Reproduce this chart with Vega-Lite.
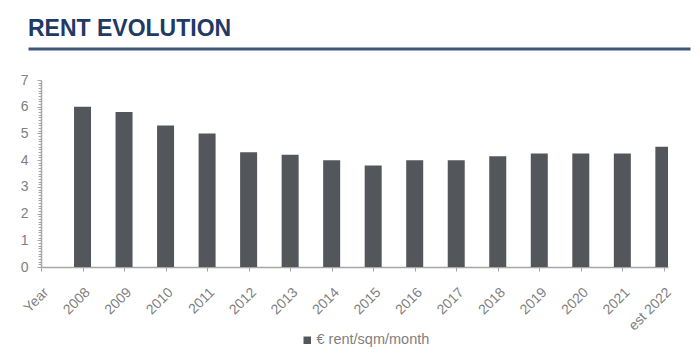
{
  "$schema": "https://vega.github.io/schema/vega-lite/v6.json",
  "autosize": "none",
  "width": 627,
  "height": 187,
  "padding": {"left": 41, "top": 80, "right": 32, "bottom": 96},
  "background": "white",
  "config": {
    "view": {"stroke": null},
    "font": "Liberation Sans"
  },
  "title": {
    "text": "RENT EVOLUTION",
    "anchor": "start",
    "frame": "group",
    "dx": -13,
    "offset": 8,
    "font": "Liberation Sans",
    "fontSize": 23,
    "fontWeight": "bold",
    "color": "#1f3a64"
  },
  "data": {
    "values": [
      {"year": "Year", "rent": null, "series": "€ rent/sqm/month"},
      {"year": "2008", "rent": 6.0, "series": "€ rent/sqm/month"},
      {"year": "2009", "rent": 5.8, "series": "€ rent/sqm/month"},
      {"year": "2010", "rent": 5.3, "series": "€ rent/sqm/month"},
      {"year": "2011", "rent": 5.0, "series": "€ rent/sqm/month"},
      {"year": "2012", "rent": 4.3, "series": "€ rent/sqm/month"},
      {"year": "2013", "rent": 4.2, "series": "€ rent/sqm/month"},
      {"year": "2014", "rent": 4.0, "series": "€ rent/sqm/month"},
      {"year": "2015", "rent": 3.8, "series": "€ rent/sqm/month"},
      {"year": "2016", "rent": 4.0, "series": "€ rent/sqm/month"},
      {"year": "2017", "rent": 4.0, "series": "€ rent/sqm/month"},
      {"year": "2018", "rent": 4.15, "series": "€ rent/sqm/month"},
      {"year": "2019", "rent": 4.25, "series": "€ rent/sqm/month"},
      {"year": "2020", "rent": 4.25, "series": "€ rent/sqm/month"},
      {"year": "2021", "rent": 4.25, "series": "€ rent/sqm/month"},
      {"year": "est 2022", "rent": 4.5, "series": "€ rent/sqm/month"}
    ]
  },
  "layer": [
    {
      "mark": {"type": "bar", "width": 17, "clip": true},
      "encoding": {
        "x": {
          "field": "year",
          "type": "ordinal",
          "sort": null,
          "scale": {
            "type": "point",
            "domain": ["Year", "2008", "2009", "2010", "2011", "2012", "2013", "2014", "2015", "2016", "2017", "2018", "2019", "2020", "2021", "est 2022"],
            "padding": 0.05,
            "align": 0
          },
          "axis": {
            "title": null,
            "labelAngle": -45,
            "labelFont": "Liberation Sans",
            "labelFontSize": 14,
            "labelColor": "#808080",
            "labelPadding": 14,
            "domainColor": "#a6a6a6",
            "domainWidth": 1.5,
            "tickColor": "#a6a6a6",
            "tickSize": 4,
            "grid": false
          }
        },
        "y": {
          "field": "rent",
          "type": "quantitative",
          "scale": {"domain": [0, 7], "nice": false},
          "axis": {
            "title": null,
            "grid": false,
            "values": [0, 0.1, 0.2, 0.3, 0.4, 0.5, 0.6, 0.7, 0.8, 0.9, 1, 1.1, 1.2, 1.3, 1.4, 1.5, 1.6, 1.7, 1.8, 1.9, 2, 2.1, 2.2, 2.3, 2.4, 2.5, 2.6, 2.7, 2.8, 2.9, 3, 3.1, 3.2, 3.3, 3.4, 3.5, 3.6, 3.7, 3.8, 3.9, 4, 4.1, 4.2, 4.3, 4.4, 4.5, 4.6, 4.7, 4.8, 4.9, 5, 5.1, 5.2, 5.3, 5.4, 5.5, 5.6, 5.7, 5.8, 5.9, 6, 6.1, 6.2, 6.3, 6.4, 6.5, 6.6, 6.7, 6.8, 6.9, 7],
            "labelExpr": "abs(datum.value - round(datum.value)) < 0.001 ? format(datum.value, 'd') : ''",
            "labelFont": "Liberation Sans",
            "labelFontSize": 14,
            "labelColor": "#808080",
            "labelPadding": 9,
            "labelOverlap": false,
            "domainColor": "#a6a6a6",
            "domainWidth": 1.5,
            "tickColor": "#a6a6a6",
            "tickSize": {"condition": {"test": "abs(datum.value - round(datum.value)) < 0.001", "value": 4}, "value": 3}
          }
        },
        "color": {
          "field": "series",
          "type": "nominal",
          "scale": {"range": ["#53565a"]},
          "legend": {
            "title": null,
            "orient": "none",
            "legendX": 259,
            "legendY": 253,
            "symbolType": "square",
            "symbolSize": 56,
            "symbolStrokeWidth": 0,
            "labelFont": "Liberation Sans",
            "labelFontSize": 14.5,
            "labelColor": "#7f7f7f",
            "labelOffset": 2
          }
        }
      }
    },
    {
      "mark": {"type": "tick", "opacity": 0},
      "encoding": {
        "x": {
          "field": "year",
          "type": "ordinal",
          "sort": null,
          "scale": {"type": "point", "range": [-13, 649]},
          "axis": {
            "orient": "top",
            "title": null,
            "labels": false,
            "ticks": false,
            "grid": false,
            "domainColor": "#3d5679",
            "domainWidth": 3,
            "offset": 31.5
          }
        }
      }
    }
  ],
  "resolve": {"scale": {"x": "independent"}, "axis": {"x": "independent"}}
}
